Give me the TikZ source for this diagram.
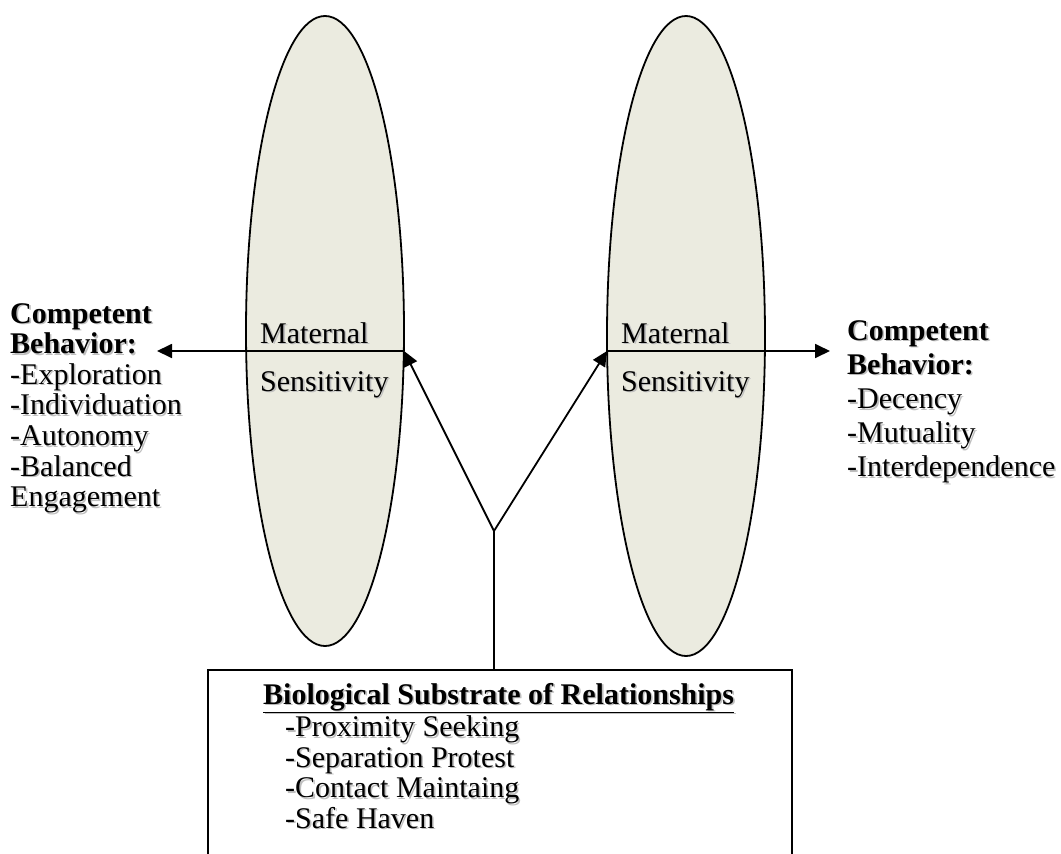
\documentclass[tikz,border=0pt]{standalone}
\usepackage{fontspec}
\setmainfont{Liberation Serif}
\usetikzlibrary{shapes.geometric,arrows.meta}
\definecolor{lobefill}{RGB}{235,235,224}
% text with a soft grey drop shadow
\newcommand\shd[1]{\makebox[0pt][l]{\hspace{1.6pt}\raisebox{-1.6pt}{\color{black!25}#1}}#1}
\begin{document}
\begin{tikzpicture}[x=1pt,y=-1pt,
  every node/.style={font=\fontsize{30}{34.2}\selectfont, inner sep=0pt},
  lobe/.style={ellipse, draw, line width=1.8pt, fill=lobefill,
    minimum width=158pt, minimum height=630pt},
  link/.style={line width=1.8pt, -{Triangle[length=15pt,width=14pt]}},
  plain/.style={line width=1.8pt},
  textblock/.style={align=left, anchor=north west}]
\useasboundingbox (0,0) rectangle (1061,854);
\clip (0,0) rectangle (1061,854);

% the two maternal-sensitivity lobes
\node[lobe] (L) at (325,331) {};
\node[lobe, minimum height=640pt] (R) at (686,336) {};
\node[anchor=base west] (Lm) at (260,343) {\shd{Maternal}};
\node[anchor=base west] (Ls) at (260,391) {\shd{Sensitivity}};
\node[anchor=base west] (Rm) at (621,343) {\shd{Maternal}};
\node[anchor=base west] (Rs) at (621,391) {\shd{Sensitivity}};

% substrate box (open at the bottom of the page)
\node[draw, plain, anchor=north west, minimum width=584pt, minimum height=300pt] (B) at (207,669) {};
\node[anchor=base west] (Bh) at (263,704)
  {\textbf{\shd{\underline{Biological Substrate of Relationships}}}};
\node[textblock, font=\fontsize{30}{30.5}\selectfont] (Bi) at (285,715.5)
  {\shd{-Proximity Seeking}\\ \shd{-Separation Protest}\\ \shd{-Contact Maintaing}\\ \shd{-Safe Haven}};

% competent behaviour lists
\node[textblock, font=\fontsize{30}{30.6}\selectfont] (CL) at (10,303)
  {\textbf{\shd{Competent}}\\ \textbf{\shd{Behavior:}}\\ \shd{-Exploration}\\ \shd{-Individuation}\\
   \shd{-Autonomy}\\ \shd{-Balanced}\\ \shd{Engagement}};
\node[textblock] (CR) at (847,320)
  {\textbf{\shd{Competent}}\\ \textbf{\shd{Behavior:}}\\ \shd{-Decency}\\ \shd{-Mutuality}\\ \shd{-Interdependence}};

% connector points
\coordinate (J) at (494,531);
\coordinate (Le) at (404,351);
\coordinate (Rw) at (607,351);
\coordinate (Lt) at (157,351);
\coordinate (Rt) at (830,351);

\draw[link] (Le) -- (Lt);
\draw[link] (Rw) -- (Rt);
\draw[link] (J) -- (Le);
\draw[link] (J) -- (Rw);
\draw[plain] (J) -- (J |- B.north);
\end{tikzpicture}
\end{document}
